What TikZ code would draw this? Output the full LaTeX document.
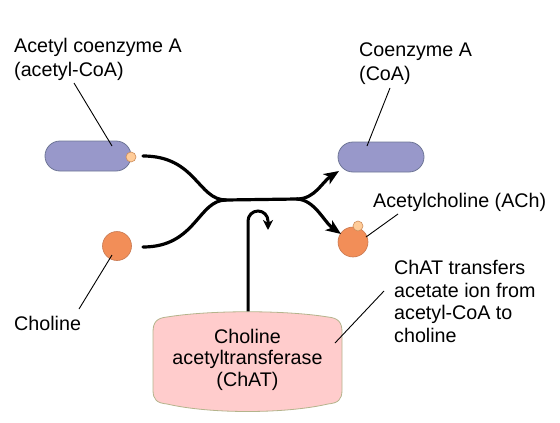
\documentclass[tikz,border=0pt]{standalone}
\usepackage{fontspec}
\setmainfont{Liberation Sans}
\usetikzlibrary{arrows.meta}
\definecolor{pillfill}{RGB}{152,152,202}
\definecolor{pillborder}{RGB}{110,118,150}
\definecolor{cholfill}{RGB}{242,142,88}
\definecolor{cholborder}{RGB}{200,120,80}
\definecolor{acfill}{RGB}{255,204,153}
\definecolor{acborder}{RGB}{205,140,90}
\definecolor{cylfill}{RGB}{255,204,204}
\definecolor{cylborder}{RGB}{180,180,140}
\begin{document}
\begin{tikzpicture}[x=1pt,y=-1pt,
  lbl/.style={font=\fontsize{19.7}{24}\selectfont, inner sep=0pt, align=left, anchor=base west},
  pill/.style={draw=pillborder, fill=pillfill, rounded corners=15pt, minimum width=86pt, minimum height=30pt, inner sep=0pt, line width=0.8pt},
  ball/.style={circle, draw=cholborder, fill=cholfill, inner sep=0pt, minimum size=29pt, line width=0.6pt},
  acetyl/.style={circle, draw=acborder, fill=acfill, inner sep=0pt, minimum size=10pt, line width=0.6pt},
  flow/.style={line width=3.2pt, line cap=round},
  leader/.style={line width=0.9pt},
  tip/.style={-{Stealth[length=15pt,width=12pt,inset=4pt]}}
]
\useasboundingbox (0,0) rectangle (560,423);

% molecules
\node[pill] (acoa) at (88,156) {};
\node[acetyl] (acgrp) at (131,157) {};
\node[pill] (coa) at (381,157) {};
\node[ball] (chol) at (117,246) {};
\node[ball, minimum size=30pt] (ach) at (353,242) {};
\node[acetyl] (achgrp) at (358,226) {};

% enzyme body
\fill[cylfill, draw=cylborder, line width=0.8pt]
  (153,332) .. controls (153,322) and (157,318) .. (167,317)
  .. controls (210,310) and (285,310) .. (328,317)
  .. controls (338,318) and (342,322) .. (342,332)
  -- (342,390)
  .. controls (342,400) and (338,403) .. (328,404)
  .. controls (285,414) and (210,414) .. (167,404)
  .. controls (157,403) and (153,400) .. (153,390) -- cycle;
\node[inner sep=0pt, minimum width=189pt, minimum height=100pt] (chat) at (247.5,361.5) {};
\node[font=\fontsize{19.7}{21.5}\selectfont, align=center, inner sep=0pt, anchor=base] (chattxt) at (247.5,386)
  {Choline\\acetyltransferase\\(ChAT)};

% labels
\node[lbl] (lacoa) at (14,76) {Acetyl coenzyme A\\(acetyl-CoA)};
\node[lbl] (lcoa) at (359,80) {Coenzyme A\\(CoA)};
\node[lbl] (lach) at (373,207) {Acetylcholine (ACh)};
\node[lbl] (lchol) at (14,330) {Choline};
\node[lbl, font=\fontsize{19.7}{22.5}\selectfont] (lchat) at (394,342) {ChAT transfers\\acetate ion from\\acetyl-CoA to\\choline};

% leader coordinates
\coordinate (a1) at (74,83);   \coordinate (a2) at (112,146);
\coordinate (c1) at (390,88);  \coordinate (c2) at (367,146);
\coordinate (h1) at (79,309);  \coordinate (h2) at (112,255);
\coordinate (e1) at (398,214); \coordinate (e2) at (366,237);
\coordinate (t1) at (384,291); \coordinate (t2) at (335,343);
\draw[leader] (a1) -- (a2);
\draw[leader] (c1) -- (c2);
\draw[leader] (h1) -- (h2);
\draw[leader] (e1) -- (e2);
\draw[leader] (t1) -- (t2);

% reaction flow
\coordinate (s1) at (143,156);
\coordinate (s2) at (143,247);
\coordinate (j1) at (226,200);
\coordinate (j2) at (297,199);
\coordinate (o1) at (339,171);
\coordinate (o2) at (341,234);
\draw[flow] (s1) .. controls (196,156) and (198,200) .. (j1);
\draw[flow] (s2) .. controls (196,247) and (198,200) .. (j1);
\draw[flow] (j1) -- (j2);
\draw[flow, tip] (j2) .. controls (315,199) and (322,182) .. (o1);
\draw[flow, tip] (j2) .. controls (315,200) and (324,222) .. (o2);

% enzyme action hook
\coordinate (hk) at (248,221);
\draw[line width=3pt, -{Stealth[length=10pt,width=10pt,inset=3pt]}]
  (chat.north -| hk) -- (hk) arc[start angle=180, end angle=0, radius=10pt] -- ++(0,9);
\end{tikzpicture}
\end{document}
